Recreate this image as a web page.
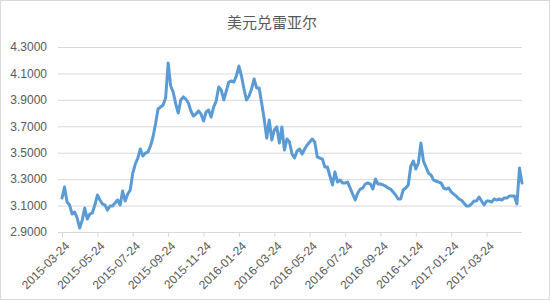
<!DOCTYPE html>
<html>
<head>
<meta charset="utf-8">
<script src="https://cdn.jsdelivr.net/npm/d3@7"></script>
<style>
  body { margin: 0; background: #fff; }
  text { font-family: "Liberation Sans", Arial, sans-serif; }
</style>
</head>
<body>
<div id="chart"></div>
<script>
// USD/BRL closes (category axis, one value per slot)
const rates = [
  3.157, 3.240, 3.127, 3.104, 3.036, 3.051, 3.006, 2.930, 2.990, 3.081,
  2.998, 3.036, 3.044, 3.104, 3.180, 3.142, 3.112, 3.104, 3.066, 3.097,
  3.097, 3.119, 3.142, 3.104, 3.210, 3.134, 3.187, 3.218, 3.346, 3.414,
  3.460, 3.528, 3.475, 3.498, 3.505, 3.551, 3.619, 3.717, 3.831, 3.846,
  3.861, 3.914, 4.179, 4.005, 3.959, 3.869, 3.800, 3.899, 3.922, 3.906,
  3.876, 3.816, 3.778, 3.793, 3.816, 3.793, 3.740, 3.808, 3.823, 3.770,
  3.846, 3.891, 3.997, 3.975, 3.899, 3.967, 4.035, 4.043, 4.035, 4.081,
  4.156, 4.081, 3.982, 3.899, 3.929, 3.982, 4.058, 3.990, 3.990, 3.876,
  3.755, 3.611, 3.748, 3.596, 3.672, 3.695, 3.573, 3.695, 3.520, 3.604,
  3.581, 3.490, 3.460, 3.513, 3.528, 3.490, 3.528, 3.558, 3.581, 3.604,
  3.581, 3.468, 3.460, 3.452, 3.392, 3.392, 3.324, 3.256, 3.354, 3.278,
  3.293, 3.271, 3.271, 3.278, 3.233, 3.187, 3.142, 3.195, 3.225, 3.233,
  3.263, 3.271, 3.263, 3.225, 3.301, 3.263, 3.263, 3.256, 3.248, 3.233,
  3.225, 3.203, 3.180, 3.150, 3.150, 3.218, 3.233, 3.256, 3.399, 3.437,
  3.377, 3.422, 3.573, 3.437, 3.392, 3.346, 3.331, 3.293, 3.286, 3.278,
  3.271, 3.233, 3.225, 3.233, 3.203, 3.187, 3.172, 3.150, 3.142, 3.119,
  3.097, 3.097, 3.112, 3.134, 3.134, 3.165, 3.134, 3.104, 3.134, 3.134,
  3.127, 3.150, 3.142, 3.150, 3.142, 3.157, 3.157, 3.172, 3.172, 3.172,
  3.112, 3.384, 3.271
];

// category labels and the slot each one sits on
const tickLabels = [
  "2015-03-24", "2015-05-24", "2015-07-24", "2015-09-24", "2015-11-24",
  "2016-01-24", "2016-03-24", "2016-05-24", "2016-07-24", "2016-09-24",
  "2016-11-24", "2017-01-24", "2017-03-24"
];
const tickSlots = [0, 14, 28, 42, 56, 70, 84, 98, 112, 126, 140, 154, 168];

const yTicks = [2.9, 3.1, 3.3, 3.5, 3.7, 3.9, 4.1, 4.3];
const title = "美元兑雷亚尔";

const W = 550, H = 300;
const margin = { top: 47, right: 28, bottom: 68, left: 62 };

const svg = d3
  .select("#chart")
  .append("svg")
  .attr("width", W)
  .attr("height", H);

// chart area border
svg
  .append("rect")
  .attr("x", 0.5)
  .attr("y", 0.5)
  .attr("width", W - 1)
  .attr("height", H - 1)
  .attr("fill", "#fff")
  .attr("stroke", "#d9d9d9");

const x = d3
  .scaleLinear()
  .domain([0, rates.length - 1])
  .range([margin.left, W - margin.right]);

const y = d3
  .scaleLinear()
  .domain([2.9, 4.3])
  .range([H - margin.bottom, margin.top]);

// gridlines + y labels
const yAxis = d3
  .axisLeft(y)
  .tickValues(yTicks)
  .tickFormat(d3.format(".4f"))
  .tickSize(-(W - margin.right - margin.left + 4))
  .tickPadding(11);

svg
  .append("g")
  .attr("transform", `translate(${margin.left - 4},0)`)
  .call(yAxis)
  .call((g) => g.select(".domain").remove())
  .call((g) => g.selectAll(".tick line").attr("stroke", "#d9d9d9"))
  .call((g) =>
    g
      .selectAll(".tick text")
      .attr("fill", "#595959")
      .style("font-size", "12px")
  );

// category axis along the bottom
const xAxis = d3
  .axisBottom(x)
  .tickValues(tickSlots)
  .tickFormat((d, i) => tickLabels[i])
  .tickSize(5)
  .tickSizeOuter(0);

svg
  .append("g")
  .attr("transform", `translate(0,${H - margin.bottom})`)
  .call(xAxis)
  .call((g) => g.select(".domain").attr("stroke", "#d9d9d9").attr("d", `M${margin.left - 4},0.5H${W - margin.right}`))
  .call((g) => g.selectAll(".tick line").attr("stroke", "#d9d9d9"))
  .call((g) =>
    g
      .selectAll(".tick text")
      .attr("fill", "#595959")
      .style("font-size", "12px")
      .attr("text-anchor", "end")
      .attr("dy", null)
      .attr("transform", "translate(2,9) rotate(-45)")
  );

const line = d3
  .line()
  .x((d, i) => x(i))
  .y((d) => y(d));

svg
  .append("path")
  .datum(rates)
  .attr("d", line)
  .attr("fill", "none")
  .attr("stroke", "#5b9bd5")
  .attr("stroke-width", 3)
  .attr("stroke-linejoin", "round")
  .attr("stroke-linecap", "round");

svg
  .append("text")
  .attr("x", 272)
  .attr("y", 28)
  .attr("text-anchor", "middle")
  .attr("fill", "#595959")
  .style("font-family", "'Noto Sans CJK SC', sans-serif")
  .style("font-size", "15px")
  .text(title);
</script>
</body>
</html>
